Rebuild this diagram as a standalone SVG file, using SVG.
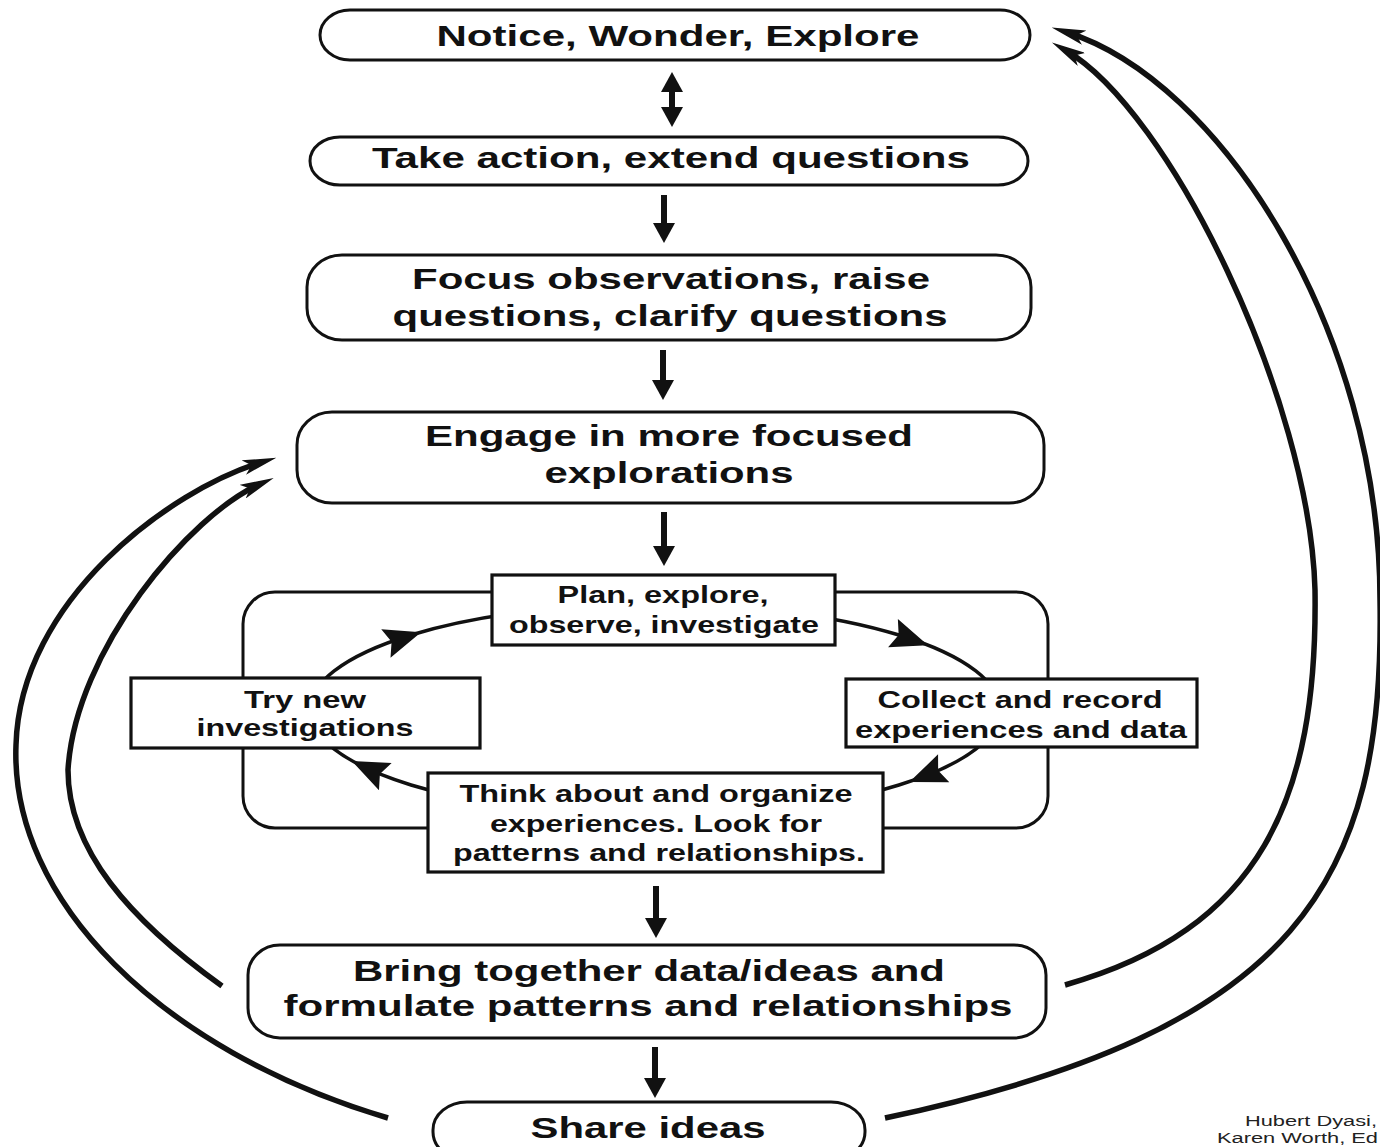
<svg xmlns="http://www.w3.org/2000/svg" width="1380" height="1147" viewBox="0 0 1380 1147">
<style>
.node{fill:#fff;stroke:#111;stroke-width:3}
.box{fill:#fff;stroke:#111;stroke-width:3.2}
.frame{fill:none;stroke:#111;stroke-width:3}
.t{font-family:"Liberation Sans",Arial,sans-serif;font-weight:bold;font-size:29px;fill:#111;text-anchor:middle}
.s{font-family:"Liberation Sans",Arial,sans-serif;font-weight:bold;font-size:24px;fill:#111;text-anchor:middle}
.c{font-family:"Liberation Sans",Arial,sans-serif;font-size:14px;fill:#222}
.big{fill:none;stroke:#111;stroke-width:5.5;marker-end:url(#bh)}
.shaft{stroke:#111;stroke-width:6}
.head{fill:#111}
.cyc{fill:none;stroke:#111;stroke-width:3.5}
</style>
<defs>
<marker id="bh" viewBox="0 0 34 15" markerWidth="34" markerHeight="15" refX="19" refY="7.5" orient="auto" markerUnits="userSpaceOnUse">
<path d="M0,0 L34,7.5 L0,15 L8,7.5 Z" fill="#111"/>
</marker>
<polygon id="ch" points="19,0 -18,-15 -12,0 -18,15" fill="#111"/>
<polygon id="dh" points="-11,-20 11,-20 0,0" fill="#111"/>
</defs>
<rect width="1380" height="1147" fill="#fff"/>

<g id="connectors">
<g id="a12">
<line class="shaft" x1="672" y1="88" x2="672" y2="110"/>
<polygon class="head" points="661,92 683,92 672,72"/>
<polygon class="head" points="661,107 683,107 672,127"/>
</g>
<g id="a23"><line class="shaft" x1="664" y1="195" x2="664" y2="226"/><use href="#dh" x="664" y="243"/></g>
<g id="a34"><line class="shaft" x1="663" y1="350" x2="663" y2="382"/><use href="#dh" x="663" y="400"/></g>
<g id="a4c"><line class="shaft" x1="664" y1="512" x2="664" y2="548"/><use href="#dh" x="664" y="566"/></g>
<g id="a6b"><line class="shaft" x1="656" y1="886" x2="656" y2="920"/><use href="#dh" x="656" y="938"/></g>
<g id="abs"><line class="shaft" x1="655" y1="1047" x2="655" y2="1080"/><use href="#dh" x="655" y="1098"/></g>
<rect class="frame" x="243" y="592" width="805" height="236" rx="32" ry="32"/>
<ellipse class="cyc" cx="655" cy="710" rx="345" ry="106"/>
<use href="#ch" transform="translate(403,638) rotate(-18)"/>
<use href="#ch" transform="translate(910,639) rotate(19)"/>
<use href="#ch" transform="translate(927,775) rotate(158)"/>
<use href="#ch" transform="translate(369,769) rotate(-155)"/>
<path class="big" d="M388,1118 C160,1050 10,900 16,745 C20,600 170,490 262,462"/>
<path class="big" d="M222,986 C130,920 68,850 68,770 C75,650 190,515 260,484"/>
<path class="big" d="M885,1118 C1300,1030 1385,880 1380,600 C1380,330 1220,80 1066,32"/>
<path class="big" d="M1065,985 C1260,930 1318,800 1315,590 C1310,400 1170,110 1065,50"/>
</g>

<g id="n1">
<rect class="node" x="320" y="10" width="710" height="50" rx="30" ry="25"/>
<text class="t" x="678" y="46" textLength="483" lengthAdjust="spacingAndGlyphs">Notice, Wonder, Explore</text>
</g>
<g id="n2">
<rect class="node" x="310" y="137" width="718" height="48" rx="30" ry="24"/>
<text class="t" x="671" y="168" textLength="598" lengthAdjust="spacingAndGlyphs">Take action, extend questions</text>
</g>
<g id="n3">
<rect class="node" x="307" y="255" width="724" height="85" rx="35" ry="32"/>
<text class="t" x="671" y="289" textLength="518" lengthAdjust="spacingAndGlyphs">Focus observations, raise</text>
<text class="t" x="670" y="326" textLength="555" lengthAdjust="spacingAndGlyphs">questions, clarify questions</text>
</g>
<g id="n4">
<rect class="node" x="297" y="412" width="747" height="91" rx="35" ry="33"/>
<text class="t" x="669" y="446" textLength="488" lengthAdjust="spacingAndGlyphs">Engage in more focused</text>
<text class="t" x="669" y="483" textLength="249" lengthAdjust="spacingAndGlyphs">explorations</text>
</g>
<g id="n5">
<rect class="box" x="492" y="575" width="343" height="70"/>
<text class="s" x="663" y="603" textLength="211" lengthAdjust="spacingAndGlyphs">Plan, explore,</text>
<text class="s" x="664" y="633" textLength="310" lengthAdjust="spacingAndGlyphs">observe, investigate</text>
</g>
<g id="n6">
<rect class="box" x="846" y="679" width="351" height="68"/>
<text class="s" x="1020" y="708" textLength="285" lengthAdjust="spacingAndGlyphs">Collect and record</text>
<text class="s" x="1021" y="738" textLength="332" lengthAdjust="spacingAndGlyphs">experiences and data</text>
</g>
<g id="n7">
<rect class="box" x="428" y="773" width="455" height="99"/>
<text class="s" x="656" y="802" textLength="393" lengthAdjust="spacingAndGlyphs">Think about and organize</text>
<text class="s" x="656" y="832" textLength="332" lengthAdjust="spacingAndGlyphs">experiences. Look for</text>
<text class="s" x="659" y="861" textLength="412" lengthAdjust="spacingAndGlyphs">patterns and relationships.</text>
</g>
<g id="n8">
<rect class="box" x="131" y="678" width="349" height="70"/>
<text class="s" x="305" y="708" textLength="122" lengthAdjust="spacingAndGlyphs">Try new</text>
<text class="s" x="305" y="736" textLength="217" lengthAdjust="spacingAndGlyphs">investigations</text>
</g>
<g id="n9">
<rect class="node" x="248" y="945" width="798" height="93" rx="32" ry="30"/>
<text class="t" x="649" y="981" textLength="592" lengthAdjust="spacingAndGlyphs">Bring together data/ideas and</text>
<text class="t" x="648" y="1016" textLength="729" lengthAdjust="spacingAndGlyphs">formulate patterns and relationships</text>
</g>
<g id="n10">
<rect class="node" x="433" y="1102" width="432" height="58" rx="34" ry="28"/>
<text class="t" x="648" y="1138" textLength="235" lengthAdjust="spacingAndGlyphs">Share ideas</text>
</g>
<g id="credit">
<text class="c" x="1245" y="1126" textLength="132" lengthAdjust="spacingAndGlyphs">Hubert Dyasi,</text>
<text class="c" x="1217" y="1143" textLength="161" lengthAdjust="spacingAndGlyphs">Karen Worth, Ed</text>
</g>
</svg>
